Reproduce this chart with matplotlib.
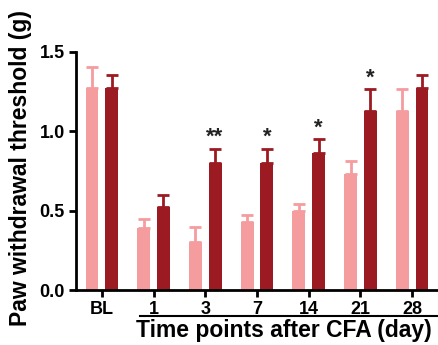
import matplotlib.pyplot as plt
import numpy as np

plt.rcParams['font.family'] = ['Liberation Sans', 'DejaVu Sans']
plt.rcParams['font.weight'] = 'bold'

time_labels = ["BL", "1", "3", "7", "14", "21", "28"]
ctrl_mean = [1.27, 0.39, 0.305, 0.43, 0.50, 0.73, 1.13]
ctrl_err = [0.135, 0.06, 0.095, 0.04, 0.045, 0.085, 0.135]
treat_mean = [1.27, 0.525, 0.80, 0.80, 0.865, 1.13, 1.27]
treat_err = [0.085, 0.075, 0.09, 0.09, 0.085, 0.135, 0.085]
stars = ["", "", "**", "*", "*", "*", ""]

pink = "#F59C9F"
dark = "#9C1B22"

fig = plt.figure(figsize=(4.38, 3.45), dpi=100)
ax = fig.add_axes([0.1735, 0.1594, 0.8265, 0.690])

x = np.arange(len(time_labels))
w = 0.25
off = 0.19
ax.bar(x - off, ctrl_mean, w, color=pink,
       yerr=[np.zeros(len(x)), ctrl_err], ecolor=pink,
       error_kw=dict(elinewidth=2, capsize=4, capthick=2))
ax.bar(x + off, treat_mean, w, color=dark,
       yerr=[np.zeros(len(x)), treat_err], ecolor=dark,
       error_kw=dict(elinewidth=2, capsize=4, capthick=2))

for i, s in enumerate(stars):
    if s:
        ax.text(x[i] + off, treat_mean[i] + treat_err[i] + 0.005, s,
                ha="center", va="bottom", fontsize=16, color="#222222")

ax.set_xlim(-0.5, 6.5)
ax.set_ylim(0, 1.5)
ax.set_yticks([0.0, 0.5, 1.0, 1.5])
ax.set_yticklabels(["0.0", "0.5", "1.0", "1.5"])
ax.set_xticks(x)
ax.set_xticklabels(time_labels)
ax.tick_params(axis="both", labelsize=13, width=2, length=5, direction="out", pad=3)
for sp in ["top", "right"]:
    ax.spines[sp].set_visible(False)
for sp in ["left", "bottom"]:
    ax.spines[sp].set_linewidth(2)

fig.text(9 / 438, 1 - 167.5 / 345, "Paw withdrawal threshold (g)", rotation=90,
         ha="left", va="center", fontsize=16.5, fontweight="bold")

fig.add_artist(plt.Line2D([140 / 438, 437 / 438], [1 - 316 / 345, 1 - 316 / 345],
                          color="black", lw=1.5))
fig.text(284 / 438, 1 - 331 / 345, "Time points after CFA (day)",
         ha="center", va="center", fontsize=16.5, fontweight="bold")

fig.savefig("out.png", dpi=100)
